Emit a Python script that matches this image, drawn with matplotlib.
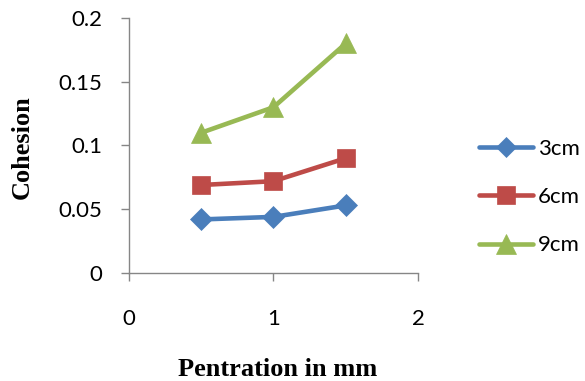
import matplotlib
matplotlib.use("Agg")
import matplotlib.pyplot as plt

x = [0.5, 1.0, 1.5]
series_names = ["3cm", "6cm", "9cm"]
s3 = [0.042, 0.044, 0.053]
s6 = [0.069, 0.072, 0.090]
s9 = [0.110, 0.130, 0.180]
xticks = [0, 1, 2]
yticks = [0, 0.05, 0.1, 0.15, 0.2]
yticklabels = ["0", "0.05", "0.1", "0.15", "0.2"]

colors = ["#4A7EBB", "#BE4B48", "#98B954"]
markers = ["D", "s", "^"]
msizes = [11, 13, 14.5]

fig = plt.figure(figsize=(5.85, 3.81), dpi=100)
ax = fig.add_axes([0.2205, 0.2835, 0.494, 0.6693])

for vals, name, c, m, ms in zip([s3, s6, s9], series_names, colors, markers, msizes):
    ax.plot(x, vals, color=c, lw=3.3, marker=m, markersize=ms, label=name,
            markeredgecolor=c, markeredgewidth=0.5,
            solid_capstyle="round", solid_joinstyle="round")

ax.set_xlim(0, 2)
ax.set_ylim(0, 0.2)
ax.set_xticks(xticks)
ax.set_xticklabels([str(t) for t in xticks])
ax.set_yticks(yticks)
ax.set_yticklabels(yticklabels)

for side in ["top", "right"]:
    ax.spines[side].set_visible(False)
for side in ["left", "bottom"]:
    ax.spines[side].set_color("#868686")
    ax.spines[side].set_linewidth(1.0)
ax.tick_params(axis="both", direction="out", length=6, width=1.0, color="#868686",
               labelsize=16)
ax.tick_params(axis="x", pad=20)
ax.tick_params(axis="y", pad=13)
for lbl in ax.get_xticklabels() + ax.get_yticklabels():
    lbl.set_fontfamily("Lato")

fig.text(0.475, 0.012, "Pentration in mm", ha="center", va="baseline",
         fontsize=19, fontweight="bold", family="Liberation Serif")
fig.text(0.0376, 0.614, "Cohesion", ha="center", va="center", rotation=90,
         fontsize=19, fontweight="bold", family="Liberation Serif")

leg = fig.legend(loc="center left", bbox_to_anchor=(0.819, 0.483), frameon=False,
                 prop={"family": "Lato", "size": 16}, handlelength=2.43,
                 handletextpad=0.22, labelspacing=1.28, markerscale=0.95,
                 borderpad=0, borderaxespad=0)

fig.savefig("out.png", dpi=100)
